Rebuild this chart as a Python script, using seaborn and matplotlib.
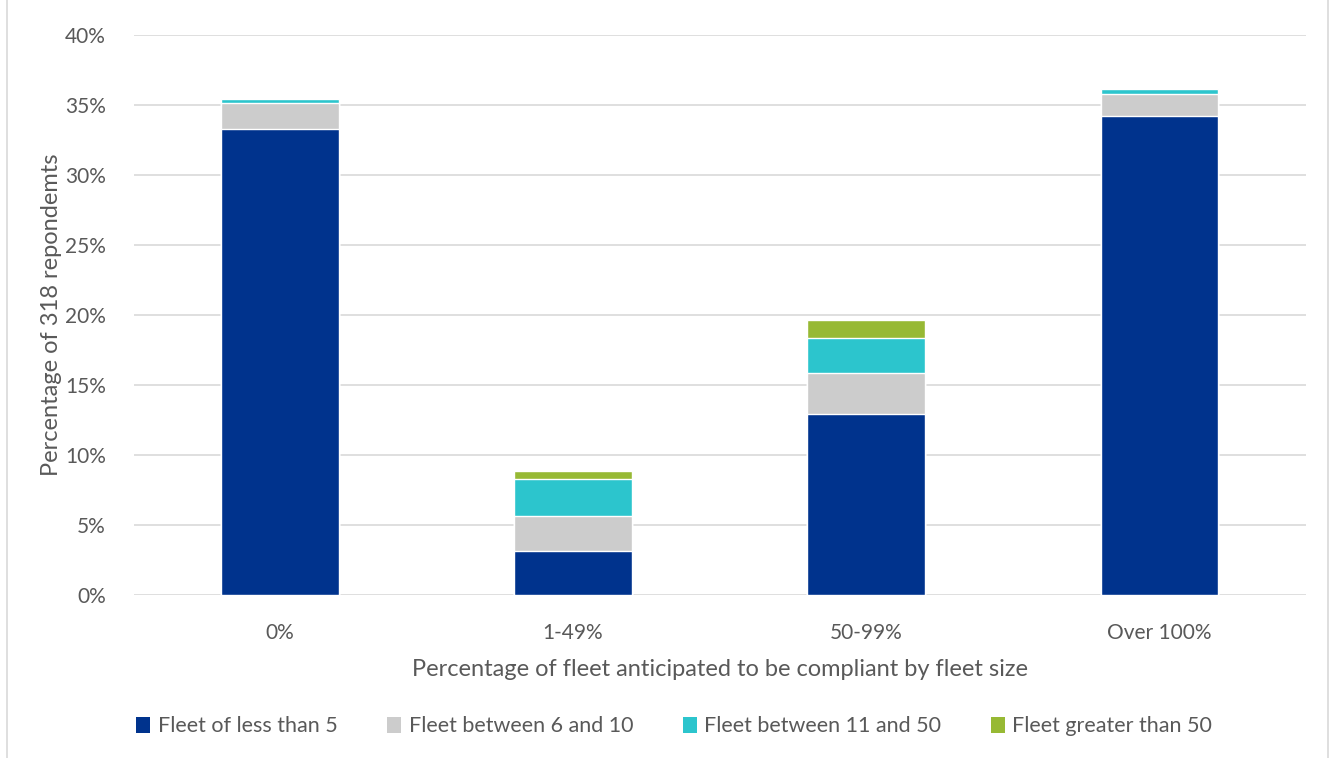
import seaborn as sns
import matplotlib.pyplot as plt
import numpy as np
import pandas as pd
from matplotlib.patches import Patch, Rectangle

# 데이터 (318명 응답 중 비율, %)
categories = ['0%', '1-49%', '50-99%', 'Over 100%']
series_names = ['Fleet of less than 5', 'Fleet between 6 and 10',
                'Fleet between 11 and 50', 'Fleet greater than 50']
less_than_5 = [33.3, 3.15, 12.95, 34.2]
between_6_10 = [1.85, 2.5, 2.9, 1.6]
between_11_50 = [0.3, 2.6, 2.5, 0.3]
greater_50 = [0.0, 0.6, 1.3, 0.0]
colors = ['#00338D', '#CCCCCC', '#2CC5CD', '#97B934']

sns.set_theme(style='white')
plt.rcParams['font.family'] = ['Lato', 'DejaVu Sans']
text_color = '#595959'

df = pd.DataFrame({'category': categories,
                   series_names[0]: less_than_5,
                   series_names[1]: between_6_10,
                   series_names[2]: between_11_50,
                   series_names[3]: greater_50})
cum = df[series_names].cumsum(axis=1)

fig = plt.figure(figsize=(13.35, 7.58), dpi=100)
ax = fig.add_axes([0.1, 0.215, 0.878, 0.739])

# 누적 막대: 위쪽 누적값부터 그림
for name, color in reversed(list(zip(series_names, colors))):
    sns.barplot(x='category', y=cum[name], data=df.assign(**{name: cum[name]}),
                color=color, width=0.4, ax=ax, saturation=1, zorder=3)

ax.set_ylim(0, 40)
ax.set_xlim(-0.5, 3.5)
ax.set_yticks(range(0, 41, 5))
ax.set_yticklabels([f'{v}%' for v in range(0, 41, 5)])
ax.yaxis.grid(True, color='#D9D9D9', linewidth=1.2, zorder=0)
ax.set_axisbelow(True)
for s in ax.spines.values():
    s.set_visible(False)
ax.tick_params(axis='both', length=0, labelsize=15, colors=text_color)
ax.tick_params(axis='x', pad=20)
ax.tick_params(axis='y', pad=20)
ax.set_xlabel('Percentage of fleet anticipated to be compliant by fleet size',
              fontsize=17, color=text_color, labelpad=12)
ax.set_ylabel('Percentage of 318 repondemts', fontsize=17, color=text_color, labelpad=2)

handles = [Patch(facecolor=c, edgecolor='none') for c in colors]
fig.legend(handles, series_names, loc='lower center', bbox_to_anchor=(0.505, 0.003),
           ncol=4, frameon=False, fontsize=15.5, handlelength=0.65, handleheight=0.75,
           handletextpad=0.35, columnspacing=2.3, labelcolor=text_color)

# 차트 테두리
fig.patches.append(Rectangle((0.005, -0.01), 0.99, 1.02, transform=fig.transFigure,
                             fill=False, edgecolor='#D9D9D9', linewidth=1.2))

fig.savefig('out.png', dpi=100)
